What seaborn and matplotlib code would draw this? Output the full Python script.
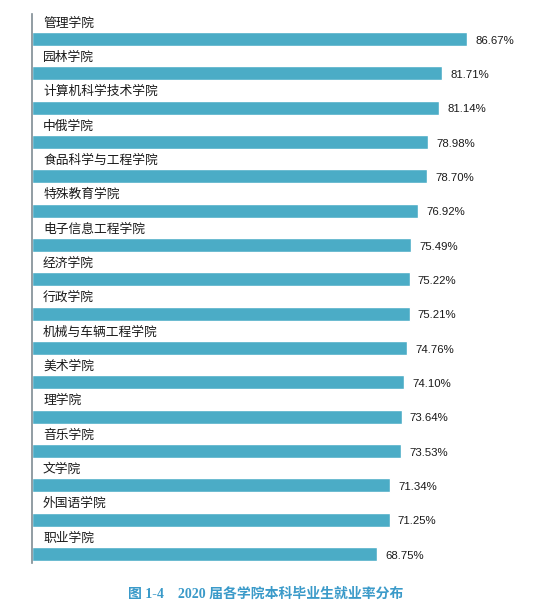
import matplotlib
matplotlib.use("Agg")
import matplotlib.pyplot as plt
import pandas as pd
import seaborn as sns

colleges = ['管理学院', '园林学院', '计算机科学技术学院', '中俄学院', '食品科学与工程学院',
            '特殊教育学院', '电子信息工程学院', '经济学院', '行政学院', '机械与车辆工程学院',
            '美术学院', '理学院', '音乐学院', '文学院', '外国语学院', '职业学院']
rates = [86.67, 81.71, 81.14, 78.98, 78.70, 76.92, 75.49, 75.22, 75.21, 74.76,
         74.10, 73.64, 73.53, 71.34, 71.25, 68.75]
title = '图 1-4    2020 届各学院本科毕业生就业率分布'

sns.set_theme(style='white')
plt.rcParams['font.family'] = ['Noto Sans CJK SC', 'DejaVu Sans']

df = pd.DataFrame({'college': colleges, 'rate': rates})

fig = plt.figure(figsize=(5.45, 6.05), dpi=100)
ax = fig.add_axes([32 / 545, 1 - 563 / 605, 502 / 545, 549 / 605])
sns.barplot(data=df, x='rate', y='college', orient='h', color='#4bacc6',
            saturation=1, width=0.41, ax=ax)

ax.set_xlim(0, 100)
ax.set_ylim(15.26, -0.73)
for s in ['top', 'right', 'bottom']:
    ax.spines[s].set_visible(False)
ax.spines['left'].set_color('#7f8c94')
ax.spines['left'].set_linewidth(1.2)
ax.set_xticks([])
ax.set_yticks([])
ax.set_xlabel('')
ax.set_ylabel('')

for i, (c, v) in enumerate(zip(colleges, rates)):
    ax.text(2.2, i - 0.47, c, ha='left', va='center', fontsize=9.2, color='#1a1a1a')
    ax.text(v + 1.6, i + 0.05, f'{v:.2f}%', ha='left', va='center', fontsize=8.2,
            color='#1a1a1a', family=['Liberation Sans', 'DejaVu Sans'], clip_on=False)

fig.text(266 / 545, 1 - 594 / 605, title, ha='center', va='center', fontsize=10,
         fontweight='bold', color='#3a9ac9',
         family=['Liberation Serif', 'Noto Sans CJK SC'])

fig.savefig('out.png', dpi=100)
